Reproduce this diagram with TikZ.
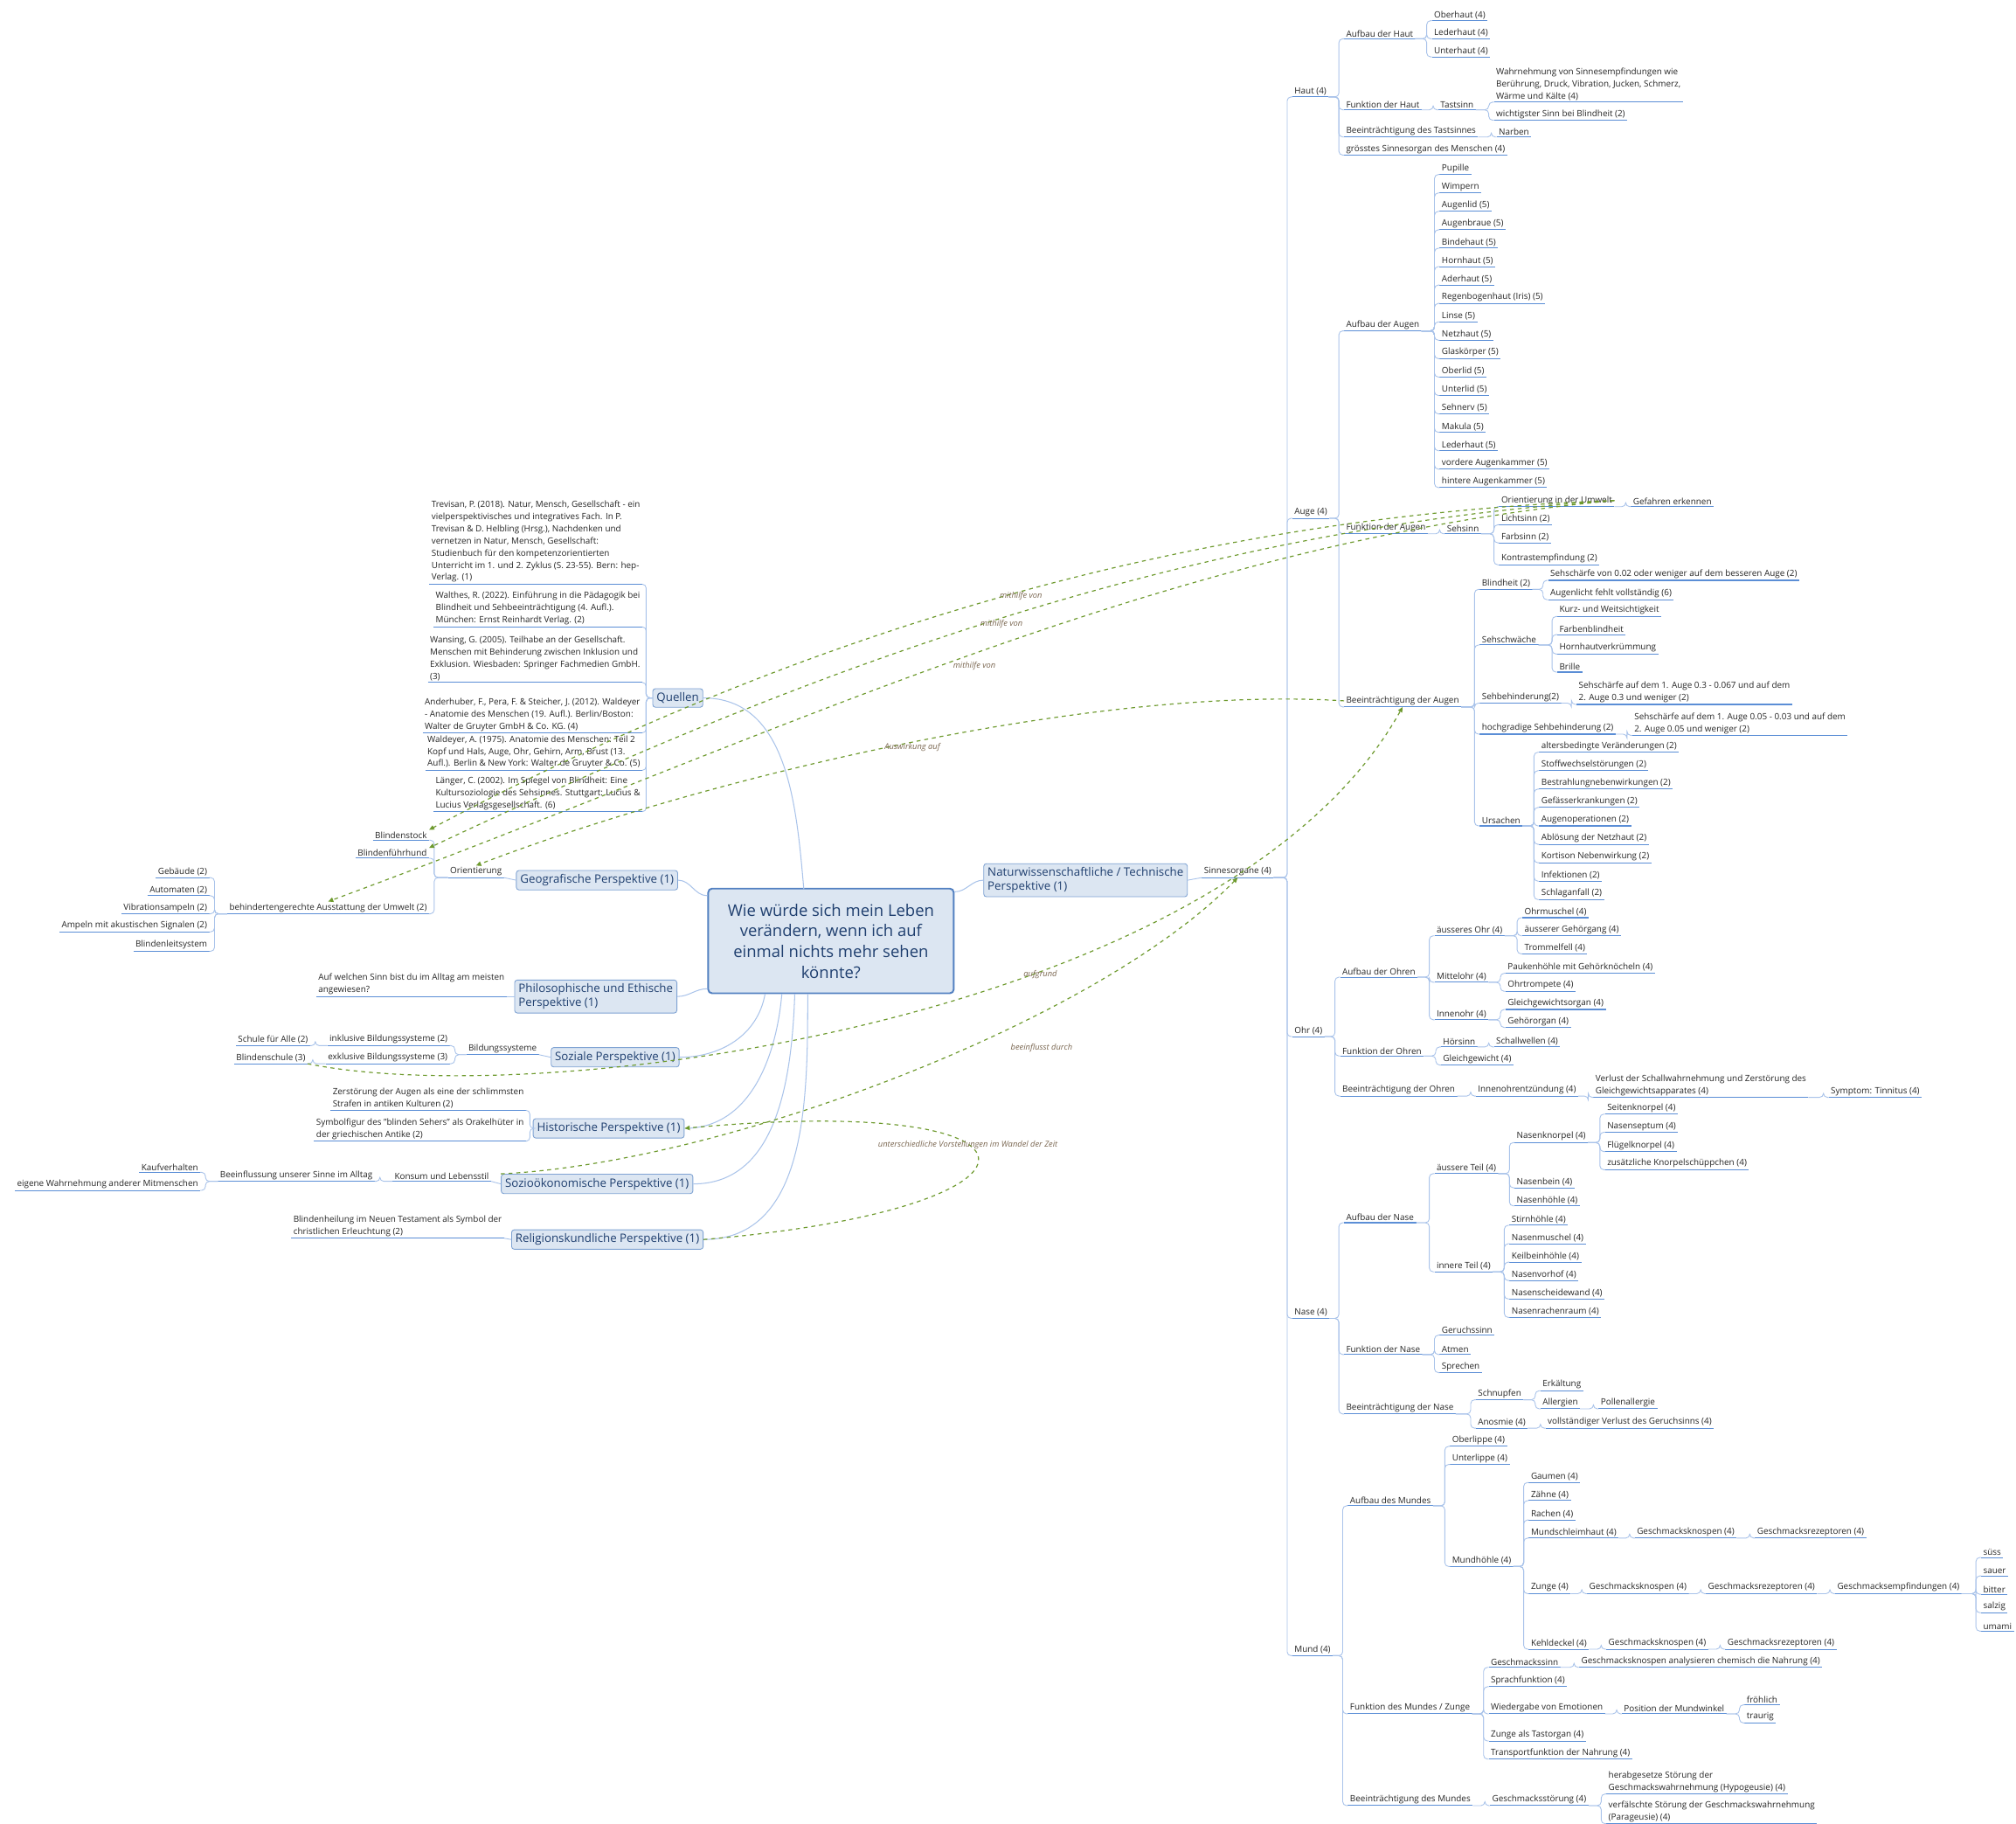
\documentclass[tikz,border=0pt]{standalone}
\usepackage{fontspec}
\setmainfont{Open Sans}
\usetikzlibrary{arrows.meta}
\definecolor{ulc}{HTML}{5B8ED6}
\definecolor{cnc}{HTML}{A9C3EA}
\definecolor{relc}{HTML}{6E9A2E}
\definecolor{lblc}{HTML}{7A6650}
\definecolor{boxf}{HTML}{DCE6F2}
\definecolor{boxd}{HTML}{7FA3D3}
\definecolor{boxt}{HTML}{1F3F6F}
\tikzset{
  lf/.style={inner xsep=1.5pt,inner ysep=1.2pt,font=\fontsize{6.7}{9.4}\selectfont,text=black!85,align=left,
    append after command={(\tikzlastnode.south west) edge[ulc,line width=0.7pt] (\tikzlastnode.south east)}},
  conn/.style={cnc,line width=0.6pt,rounded corners=3pt},
  main/.style={cnc,line width=0.7pt},
  pbox/.style={draw=boxd,fill=boxf,rounded corners=2pt,text=boxt,font=\fontsize{9}{10.5}\selectfont,align=left,inner sep=3pt,line width=0.6pt},
  rel/.style={relc,dashed,line width=0.8pt,-{Triangle[length=4pt,width=3.5pt]}},
  lbl/.style={font=\itshape\fontsize{6.3}{7}\selectfont,text=lblc}
}
\newcommand\lfn[4]{\node[lf,anchor=south west] (#1) at ({#2},{#3}) {#4};}
\newcommand\rfn[4]{\node[lf,anchor=south east] (#1) at ({#2},{#3}) {#4};}
\newcommand\cn[2]{\path (#2.south west) ++(-4,0) coordinate (tmpc); \draw[conn] (#1.south east) -- (tmpc |- #1.south east) |- (#2.south west);}
\newcommand\cl[2]{\path (#2.south east) ++(4,0) coordinate (tmpc); \draw[conn] (#1.south west) -- (tmpc |- #1.south west) |- (#2.south east);}
\newcommand\cns[2]{\foreach \cc in {#2}{\cn{#1}{\cc}}}
\newcommand\cls[2]{\foreach \cc in {#2}{\cl{#1}{\cc}}}
\begin{document}
\begin{tikzpicture}[x=1pt,y=-1pt]
\useasboundingbox[fill=white] (0,0) rectangle (1560,1411);
% central
\node[draw=ulc!90!black,fill=boxf,rounded corners=3pt,line width=1.3pt,text=boxt,font=\fontsize{12.5}{16}\selectfont,align=center,minimum width=190,minimum height=81] (c) at (643,728) {Wie würde sich mein Leben\\verändern, wenn ich auf\\einmal nichts mehr sehen\\könnte?};
% perspective boxes
\node[pbox] (nat) at (840,681) {Naturwissenschaftliche / Technische\\Perspektive (1)};
\node[pbox] (que) at (524.5,540) {Quellen};
\node[pbox] (geo) at (462,681) {Geografische Perspektive (1)};
\node[pbox] (phi) at (461,771) {Philosophische und Ethische\\Perspektive (1)};
\node[pbox] (soz) at (476,818) {Soziale Perspektive (1)};
\node[pbox] (his) at (471,873) {Historische Perspektive (1)};
\node[pbox] (oek) at (462,916) {Sozioökonomische Perspektive (1)};
\node[pbox] (rel) at (470,959) {Religionskundliche Perspektive (1)};
\draw[main] (c.east) ++(0,-38) to[out=0,in=180] (nat.west);
\draw[main] (622,688) to[out=95,in=0] (que.east);
\draw[main] (c.west) ++(0,-35) to[out=180,in=0] (geo.east);
\draw[main] (c.west) ++(0,37) to[out=180,in=0] (phi.east);
\draw[main] (592,769) to[out=-100,in=0] (soz.east);
\draw[main] (605,769) to[out=-95,in=0] (his.east);
\draw[main] (615,769) to[out=-92,in=0] (oek.east);
\draw[main] (625,769) to[out=-90,in=0] (rel.east);
% ---------- right side ----------
\lfn{sin}{930}{679}{Sinnesorgane (4)}
\draw[conn] (nat.east) -- (sin.south west);
\lfn{haut}{1000}{75}{Haut (4)}
\lfn{auge}{1000}{401}{Auge (4)}
\lfn{ohr}{1000}{802}{Ohr (4)}
\lfn{nase}{1000}{1020}{Nase (4)}
\lfn{mund}{1000}{1281}{Mund (4)}
\cns{sin}{haut,auge,ohr,nase,mund}
% Haut
\lfn{adh}{1040}{30}{Aufbau der Haut}
\lfn{fdh}{1040}{85}{Funktion der Haut}
\lfn{bdt}{1040}{106}{Beeinträchtigung des Tastsinnes}
\lfn{gsm}{1040}{120}{grösstes Sinnesorgan des Menschen (4)}
\cns{haut}{adh,fdh,bdt,gsm}
\lfn{oh}{1108}{16}{Oberhaut (4)}
\lfn{lh}{1108}{30}{Lederhaut (4)}
\lfn{uh}{1108}{44}{Unterhaut (4)}
\cns{adh}{oh,lh,uh}
\lfn{tas}{1113}{85}{Tastsinn}
\cn{fdh}{tas}
\lfn{wse}{1156}{79}{Wahrnehmung von Sinnesempfindungen wie\\Berührung, Druck, Vibration, Jucken, Schmerz,\\Wärme und Kälte (4)}
\lfn{wsb}{1156}{93}{wichtigster Sinn bei Blindheit (2)}
\cns{tas}{wse,wsb}
\lfn{nar}{1158}{106}{Narben}
\cn{bdt}{nar}
% Auge
\lfn{ada}{1040}{256}{Aufbau der Augen}
\lfn{fda}{1040}{413}{Funktion der Augen}
\lfn{bda}{1040}{547}{Beeinträchtigung der Augen}
\cns{auge}{ada,fda,bda}
\foreach \t [count=\i] in {Pupille,Wimpern,Augenlid (5),Augenbraue (5),Bindehaut (5),Hornhaut (5),Aderhaut (5),Regenbogenhaut (Iris) (5),Linse (5),Netzhaut (5),Glaskörper (5),Oberlid (5),Unterlid (5),Sehnerv (5),Makula (5),Lederhaut (5),vordere Augenkammer (5),hintere Augenkammer (5)}{
  \lfn{aa\i}{1114}{135+(\i-1)*14.25}{\t}
  \cn{ada}{aa\i}
}
\lfn{ses}{1118}{413}{Sehsinn}
\cn{fda}{ses}
\lfn{oiu}{1160}{392}{Orientierung in der Umwelt}
\lfn{gef}{1262}{392}{Gefahren erkennen}
\cn{oiu}{gef}
\lfn{lis}{1160}{406}{Lichtsinn (2)}
\lfn{fas}{1160}{420}{Farbsinn (2)}
\lfn{kon}{1160}{437}{Kontrastempfindung (2)}
\cns{ses}{oiu,lis,fas,kon}
\lfn{bli}{1145}{456}{Blindheit (2)}
\lfn{ssw}{1145}{499}{Sehschwäche}
\lfn{sbh}{1145}{544}{Sehbehinderung(2)}
\lfn{hsb}{1145}{568}{hochgradige Sehbehinderung (2)}
\lfn{urs}{1145}{639}{Ursachen}
\cns{bda}{bli,ssw,sbh,hsb,urs}
\lfn{b1}{1198}{449}{Sehschärfe von 0.02 oder weniger auf dem besseren Auge (2)}
\lfn{b2}{1198}{464}{Augenlicht fehlt vollständig (6)}
\cns{bli}{b1,b2}
\lfn{s1}{1205}{477}{Kurz- und Weitsichtigkeit}
\lfn{s2}{1205}{491}{Farbenblindheit}
\lfn{s3}{1205}{506}{Hornhautverkrümmung}
\lfn{s4}{1205}{520}{Brille}
\cns{ssw}{s1,s2,s3,s4}
\lfn{sb1}{1220}{545}{Sehschärfe auf dem 1. Auge 0.3 - 0.067 und auf dem\\2. Auge 0.3 und weniger (2)}
\cn{sbh}{sb1}
\lfn{hs1}{1263}{569}{Sehschärfe auf dem 1. Auge 0.05 - 0.03 und auf dem\\2. Auge 0.05 und weniger (2)}
\cn{hsb}{hs1}
\foreach \t [count=\i] in {altersbedingte Veränderungen (2),Stoffwechselstörungen (2),Bestrahlungnebenwirkungen (2),Gefässerkrankungen (2),Augenoperationen (2),Ablösung der Netzhaut (2),Kortison Nebenwirkung (2),Infektionen (2),Schlaganfall (2)}{
  \lfn{u\i}{1191}{582+(\i-1)*14.25}{\t}
  \cn{urs}{u\i}
}
% Ohr
\lfn{ado}{1037}{756}{Aufbau der Ohren}
\lfn{fdo}{1037}{817}{Funktion der Ohren}
\lfn{bdo}{1037}{848}{Beeinträchtigung der Ohren}
\cns{ohr}{ado,fdo,bdo}
\lfn{aeo}{1110}{724}{äusseres Ohr (4)}
\lfn{mio}{1110}{760}{Mittelohr (4)}
\lfn{ino}{1110}{789}{Innenohr (4)}
\cns{ado}{aeo,mio,ino}
\lfn{o1}{1178}{710}{Ohrmuschel (4)}
\lfn{o2}{1178}{724}{äusserer Gehörgang (4)}
\lfn{o3}{1178}{738}{Trommelfell (4)}
\cns{aeo}{o1,o2,o3}
\lfn{o4}{1165}{753}{Paukenhöhle mit Gehörknöcheln (4)}
\lfn{o5}{1165}{767}{Ohrtrompete (4)}
\cns{mio}{o4,o5}
\lfn{o6}{1165}{781}{Gleichgewichtsorgan (4)}
\lfn{o7}{1165}{795}{Gehörorgan (4)}
\cns{ino}{o6,o7}
\lfn{hoe}{1115}{810}{Hörsinn}
\lfn{glg}{1115}{824}{Gleichgewicht (4)}
\cns{fdo}{hoe,glg}
\lfn{sch}{1156}{810}{Schallwellen (4)}
\cn{hoe}{sch}
\lfn{ioe}{1142}{848}{Innenohrentzündung (4)}
\cn{bdo}{ioe}
\lfn{vds}{1233}{849}{Verlust der Schallwahrnehmung und Zerstörung des\\Gleichgewichtsapparates (4)}
\cn{ioe}{vds}
\lfn{tin}{1415}{849}{Symptom: Tinnitus (4)}
\cn{vds}{tin}
% Nase
\lfn{adn}{1040}{946}{Aufbau der Nase}
\lfn{fdn}{1040}{1048}{Funktion der Nase}
\lfn{bdn}{1040}{1094}{Beeinträchtigung der Nase}
\cns{nase}{adn,fdn,bdn}
\lfn{aet}{1110}{908}{äussere Teil (4)}
\lfn{int}{1110}{984}{innere Teil (4)}
\cns{adn}{aet,int}
\lfn{nkn}{1172}{884}{Nasenknorpel (4)}
\lfn{nbe}{1172}{919}{Nasenbein (4)}
\lfn{nho}{1172}{933}{Nasenhöhle (4)}
\cns{aet}{nkn,nbe,nho}
\lfn{k1}{1242}{862}{Seitenknorpel (4)}
\lfn{k2}{1242}{876}{Nasenseptum (4)}
\lfn{k3}{1242}{891}{Flügelknorpel (4)}
\lfn{k4}{1242}{905}{zusätzliche Knorpelschüppchen (4)}
\cns{nkn}{k1,k2,k3,k4}
\foreach \t [count=\i] in {Stirnhöhle (4),Nasenmuschel (4),Keilbeinhöhle (4),Nasenvorhof (4),Nasenscheidewand (4),Nasenrachenraum (4)}{
  \lfn{n\i}{1168}{948+(\i-1)*14.25}{\t}
  \cn{int}{n\i}
}
\lfn{ger}{1114}{1033}{Geruchssinn}
\lfn{atm}{1114}{1048}{Atmen}
\lfn{spr}{1114}{1062}{Sprechen}
\cns{fdn}{ger,atm,spr}
\lfn{snu}{1142}{1083}{Schnupfen}
\lfn{ano}{1142}{1105}{Anosmie (4)}
\cns{bdn}{snu,ano}
\lfn{erk}{1192}{1076}{Erkältung}
\lfn{all}{1192}{1090}{Allergien}
\cns{snu}{erk,all}
\lfn{pol}{1237}{1090}{Pollenallergie}
\cn{all}{pol}
\lfn{vvg}{1196}{1105}{vollständiger Verlust des Geruchsinns (4)}
\cn{ano}{vvg}
% Mund
\lfn{adm}{1043}{1165}{Aufbau des Mundes}
\lfn{fdm}{1043}{1326}{Funktion des Mundes / Zunge}
\lfn{bdm}{1043}{1397}{Beeinträchtigung des Mundes}
\cns{mund}{adm,fdm,bdm}
\lfn{obl}{1122}{1119}{Oberlippe (4)}
\lfn{unl}{1122}{1133}{Unterlippe (4)}
\lfn{mhh}{1122}{1212}{Mundhöhle (4)}
\cns{adm}{obl,unl,mhh}
\lfn{gau}{1183}{1147}{Gaumen (4)}
\lfn{zae}{1183}{1161}{Zähne (4)}
\lfn{rac}{1183}{1176}{Rachen (4)}
\lfn{msh}{1183}{1190}{Mundschleimhaut (4)}
\lfn{zun}{1183}{1233}{Zunge (4)}
\lfn{keh}{1183}{1276}{Kehldeckel (4)}
\cns{mhh}{gau,zae,rac,msh,zun,keh}
\lfn{gk1}{1265}{1190}{Geschmacksknospen (4)}
\lfn{gr1}{1358}{1190}{Geschmacksrezeptoren (4)}
\cn{msh}{gk1}\cn{gk1}{gr1}
\lfn{gk2}{1228}{1233}{Geschmacksknospen (4)}
\lfn{gr2}{1320}{1233}{Geschmacksrezeptoren (4)}
\lfn{gem}{1420}{1233}{Geschmacksempfindungen (4)}
\cn{zun}{gk2}\cn{gk2}{gr2}\cn{gr2}{gem}
\foreach \t [count=\i] in {süss,sauer,bitter,salzig,umami}{
  \lfn{g\i}{1533}{1205+(\i-1)*14.25}{\t}
  \cn{gem}{g\i}
}
\lfn{gk3}{1243}{1276}{Geschmacksknospen (4)}
\lfn{gr3}{1335}{1276}{Geschmacksrezeptoren (4)}
\cn{keh}{gk3}\cn{gk3}{gr3}
\lfn{gss}{1152}{1290}{Geschmackssinn}
\lfn{spf}{1152}{1305}{Sprachfunktion (4)}
\lfn{wve}{1152}{1326}{Wiedergabe von Emotionen}
\lfn{zat}{1152}{1347}{Zunge als Tastorgan (4)}
\lfn{tdn}{1152}{1361}{Transportfunktion der Nahrung (4)}
\cns{fdm}{gss,spf,wve,zat,tdn}
\lfn{gac}{1222}{1290}{Geschmacksknospen analysieren chemisch die Nahrung (4)}
\cn{gss}{gac}
\lfn{pdm}{1255}{1326}{Position der Mundwinkel}
\cn{wve}{pdm}
\lfn{fro}{1350}{1319}{fröhlich}
\lfn{tra}{1350}{1333}{traurig}
\cns{pdm}{fro,tra}
\lfn{gst}{1153}{1397}{Geschmacksstörung (4)}
\cn{bdm}{gst}
\lfn{hyp}{1243}{1388}{herabgesetze Störung der\\Geschmackswahrnehmung (Hypogeusie) (4)}
\lfn{par}{1243}{1411}{verfälschte Störung der Geschmackswahrnehmung\\(Parageusie) (4)}
\cns{gst}{hyp,par}
% ---------- left side ----------
\rfn{r1}{497}{452}{Trevisan, P. (2018). Natur, Mensch, Gesellschaft - ein\\vielperspektivisches und integratives Fach. In P.\\Trevisan \& D. Helbling (Hrsg.), Nachdenken und\\vernetzen in Natur, Mensch, Gesellschaft:\\Studienbuch für den kompetenzorientierten\\Unterricht im 1. und 2. Zyklus (S. 23-55). Bern: hep-\\Verlag. (1)}
\rfn{r2}{497}{485}{Walthes, R. (2022). Einführung in die Pädagogik bei\\Blindheit und Sehbeeinträchtigung (4. Aufl.).\\München: Ernst Reinhardt Verlag. (2)}
\rfn{r3}{497}{528}{Wansing, G. (2005). Teilhabe an der Gesellschaft.\\Menschen mit Behinderung zwischen Inklusion und\\Exklusion. Wiesbaden: Springer Fachmedien GmbH.\\(3)}
\rfn{r4}{497}{567}{Anderhuber, F., Pera, F. \& Steicher, J. (2012). Waldeyer\\- Anatomie des Menschen (19. Aufl.). Berlin/Boston:\\Walter de Gruyter GmbH \& Co. KG. (4)}
\rfn{r5}{497}{596}{Waldeyer, A. (1975). Anatomie des Menschen: Teil 2\\Kopf und Hals, Auge, Ohr, Gehirn, Arm, Brust (13.\\Aufl.). Berlin \& New York: Walter de Gruyter \& Co. (5)}
\rfn{r6}{497}{628}{Länger, C. (2002). Im Spiegel von Blindheit: Eine\\Kultursoziologie des Sehsinnes. Stuttgart: Lucius \&\\Lucius Verlagsgesellschaft. (6)}
\foreach \r in {r1,r2,r3,r4,r5,r6}{\path (\r.south east) ++(3,0) coordinate (tmpc); \draw[conn] (que.west) -- (tmpc |- que.west) |- (\r.south east);}
% Geografische
\rfn{ori}{390}{679}{Orientierung}
\draw[conn] (geo.west) -- (ori.south east);
\rfn{bst}{332}{650}{Blindenstock}
\rfn{bfh}{332}{664}{Blindenführhund}
\rfn{beh}{332}{707}{behindertengerechte Ausstattung der Umwelt (2)}
\cls{ori}{bst,bfh,beh}
\rfn{e1}{162}{679}{Gebäude (2)}
\rfn{e2}{162}{693}{Automaten (2)}
\rfn{e3}{162}{707}{Vibrationsampeln (2)}
\rfn{e4}{162}{721}{Ampeln mit akustischen Signalen (2)}
\rfn{e5}{162}{736}{Blindenleitsystem}
\cls{beh}{e1,e2,e3,e4,e5}
% Philosophische
\rfn{aws}{392}{771}{Auf welchen Sinn bist du im Alltag am meisten\\angewiesen?}
\draw[conn] (phi.west) -- (aws.south east);
% Soziale
\rfn{bil}{417}{816}{Bildungssysteme}
\draw[conn] (soz.west) -- (bil.south east);
\rfn{ink}{348}{809}{inklusive Bildungssysteme (2)}
\rfn{exk}{348}{823}{exklusive Bildungssysteme (3)}
\cls{bil}{ink,exk}
\rfn{sfa}{240}{809}{Schule für Alle (2)}
\cl{ink}{sfa}
\rfn{bls}{238}{823}{Blindenschule (3)}
\cl{exk}{bls}
% Historische
\rfn{zer}{407}{859}{Zerstörung der Augen als eine der schlimmsten\\Strafen in antiken Kulturen (2)}
\rfn{sym}{407}{883}{Symbolfigur des "blinden Sehers" als Orakelhüter in\\der griechischen Antike (2)}
\foreach \r in {zer,sym}{\path (\r.south east) ++(3,0) coordinate (tmpc); \draw[conn] (his.west) -- (tmpc |- his.west) |- (\r.south east);}
% Soziooekonomische
\rfn{kul}{380}{914}{Konsum und Lebensstil}
\draw[conn] (oek.west) -- (kul.south east);
\rfn{bus}{290}{914}{Beeinflussung unserer Sinne im Alltag}
\cl{kul}{bus}
\rfn{kau}{155}{907}{Kaufverhalten}
\rfn{ewm}{155}{921}{eigene Wahrnehmung anderer Mitmenschen}
\cls{bus}{kau,ewm}
% Religion
\rfn{bhe}{390}{958}{Blindenheilung im Neuen Testament als Symbol der\\christlichen Erleuchtung (2)}
\draw[conn] (rel.west) -- (bhe.south east);
% ---------- relationships ----------
\draw[rel] (oiu.east) .. controls (900,400) and (600,500) .. (bst.north east);
\draw[rel] (oiu.east) .. controls (900,410) and (600,530) .. (bfh.north east);
\draw[rel] (oiu.east) .. controls (900,420) and (600,570) .. (beh.north);
\draw[rel] (bda.west) .. controls (850,530) and (550,600) .. (ori.north);
\draw[rel] (bls.south east) .. controls (420,860) and (950,790) .. (bda.south);
\draw[rel] (oek.north west) .. controls (560,900) and (850,790) .. (sin.south);
\draw[rel] (rel.east) .. controls (830,935) and (830,845) .. (his.east);
\node[lbl] (l1) at (790,461) {mithilfe von};
\node[lbl] (l2) at (775,483) {mithilfe von};
\node[lbl] (l3) at (754,515) {mithilfe von};
\node[lbl] (l4) at (706,578) {Auswirkung auf};
\node[lbl] (l5) at (805,754) {aufgrund};
\node[lbl] (l6) at (806,811) {beeinflusst durch};
\node[lbl] (l7) at (749,886) {unterschiedliche Vorstellungen im Wandel der Zeit};
\end{tikzpicture}
\end{document}
